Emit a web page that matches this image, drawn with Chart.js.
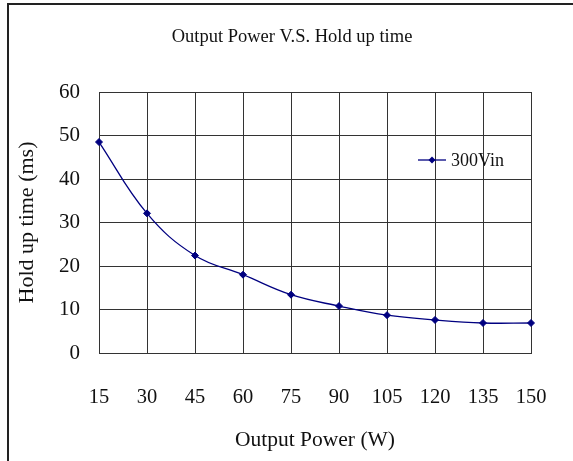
<!DOCTYPE html>
<html>
<head>
<meta charset="utf-8">
<script src="https://cdn.jsdelivr.net/npm/chart.js"></script>
<style>
  body { margin: 0; background: #fff; }
  #wrap { position: relative; width: 573px; height: 461px; }
  #frame { position: absolute; left: 7px; top: 3px; right: 0; bottom: 0;
           border-left: 2px solid #222; border-top: 2px solid #222; pointer-events: none; }
</style>
</head>
<body>
<div id="wrap">
  <canvas id="grafico" width="573" height="461"></canvas>
  <div id="frame"></div>
</div>
<script>
// dados
let potencias = ["15", "30", "45", "60", "75", "90", "105", "120", "135", "150"];
let holdup300 = [48.5, 32.1, 22.4, 18.0, 13.4, 10.8, 8.7, 7.6, 6.9, 6.9];
let ticksY = [0, 10, 20, 30, 40, 50, 60];

const fonte = "'Liberation Serif', 'Times New Roman', serif";
const azul = "#000080";

// titulo e legenda desenhados a mao
const extras = {
    id: "extras",
    afterDraw(chart) {
        const ctx = chart.ctx;
        const area = chart.chartArea;
        ctx.save();
        ctx.fillStyle = "#111";
        ctx.font = "18.5px " + fonte;
        ctx.textAlign = "center";
        ctx.textBaseline = "middle";
        ctx.fillText("Output Power V.S. Hold up time", 292, 37);

        // legenda dentro da area
        const ds = chart.data.datasets[0];
        let lx = area.right - 113, ly = area.top + 68;
        ctx.strokeStyle = ds.borderColor;
        ctx.lineWidth = 1.3;
        ctx.beginPath();
        ctx.moveTo(lx, ly);
        ctx.lineTo(lx + 28, ly);
        ctx.stroke();
        ctx.fillStyle = ds.pointBackgroundColor;
        ctx.beginPath();
        ctx.moveTo(lx + 14, ly - 3.5);
        ctx.lineTo(lx + 17.5, ly);
        ctx.lineTo(lx + 14, ly + 3.5);
        ctx.lineTo(lx + 10.5, ly);
        ctx.closePath();
        ctx.fill();
        ctx.fillStyle = "#111";
        ctx.textAlign = "left";
        ctx.font = "18px " + fonte;
        ctx.fillText(ds.label, lx + 33, ly + 1);
        ctx.restore();
    }
};

const ctx1 = document.getElementById("grafico");
new Chart(ctx1, {
    type: "line",
    data: {
        labels: potencias,
        datasets: [{
            label: "300Vin",
            data: holdup300,
            borderColor: azul,
            borderWidth: 1.3,
            backgroundColor: azul,
            pointBackgroundColor: azul,
            pointBorderColor: azul,
            pointStyle: "rectRot",
            pointRadius: 3.5,
            pointBorderWidth: 1,
            tension: 0.4,
            fill: false
        }]
    },
    plugins: [extras],
    options: {
        responsive: false,
        animation: false,
        layout: { padding: { left: 10, right: 42, top: 92, bottom: 0 } },
        plugins: {
            legend: { display: false },
            title: { display: false },
            tooltip: { enabled: false }
        },
        scales: {
            x: {
                // marcas invisiveis so para afastar os rotulos
                grid: { color: "#333", lineWidth: 1, drawTicks: true, tickLength: 30, tickColor: "rgba(0,0,0,0)" },
                border: { color: "#333", width: 1 },
                ticks: { color: "#111", padding: 2, font: { family: fonte, size: 20.5 }, maxRotation: 0 },
                title: {
                    display: true,
                    text: "Output Power (W)",
                    color: "#111",
                    font: { family: fonte, size: 21.5 },
                    padding: { top: 0, bottom: 8 }
                },
                afterFit(scale) { scale.height = 108; }
            },
            y: {
                min: 0,
                max: 60,
                afterBuildTicks(scale) { scale.ticks = ticksY.map(v => ({ value: v })); },
                grid: { color: "#333", lineWidth: 1, drawTicks: false },
                border: { color: "#333", width: 1 },
                ticks: { color: "#111", padding: 19, font: { family: fonte, size: 21 } },
                title: {
                    display: true,
                    text: "Hold up time (ms)",
                    color: "#111",
                    font: { family: fonte, size: 22 },
                    padding: { top: 4, bottom: 0 }
                },
                afterFit(scale) { scale.width = 89; }
            }
        }
    }
});
</script>
</body>
</html>
